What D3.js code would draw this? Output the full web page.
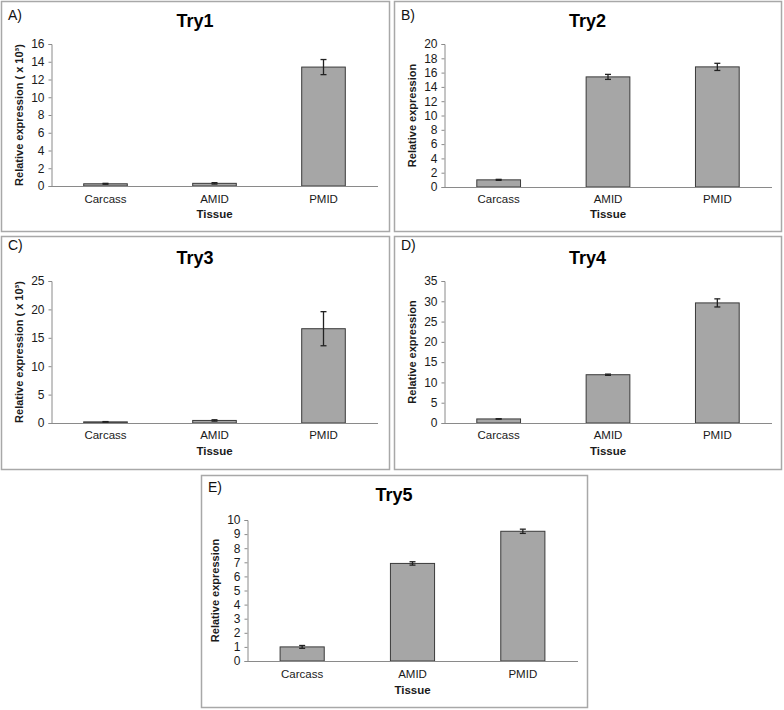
<!DOCTYPE html>
<html>
<head>
<meta charset="utf-8">
<script src="https://cdn.jsdelivr.net/npm/d3@7/dist/d3.min.js"></script>
<style>
  html, body { margin: 0; padding: 0; background: #fff; }
  svg { display: block; font-family: "Liberation Sans", Arial, sans-serif; }
</style>
</head>
<body>
<svg id="chart" width="784" height="710"></svg>
<script>
// ---- data ----
const categories = ["Carcass", "AMID", "PMID"];

const try1Values = [0.25, 0.3, 13.4];
const try1Errors = [0.05, 0.08, 0.85];
const try1Ticks  = [0, 2, 4, 6, 8, 10, 12, 14, 16];

const try2Values = [1.0, 15.4, 16.8];
const try2Errors = [0.07, 0.35, 0.5];
const try2Ticks  = [0, 2, 4, 6, 8, 10, 12, 14, 16, 18, 20];

const try3Values = [0.2, 0.45, 16.6];
const try3Errors = [0.05, 0.12, 3.0];
const try3Ticks  = [0, 5, 10, 15, 20, 25];

const try4Values = [1.0, 11.9, 29.6];
const try4Errors = [0.05, 0.15, 1.0];
const try4Ticks  = [0, 5, 10, 15, 20, 25, 30, 35];

const try5Values = [1.0, 6.92, 9.2];
const try5Errors = [0.1, 0.12, 0.15];
const try5Ticks  = [0, 1, 2, 3, 4, 5, 6, 7, 8, 9, 10];

const panelLetters = ["A)", "B)", "C)", "D)", "E)"];
const panelTitles  = ["Try1", "Try2", "Try3", "Try4", "Try5"];
const yLabelScaled = "Relative expression ( x 10³)";
const yLabelPlain  = "Relative expression";
const xLabel = "Tissue";

// ---- layout ----
const panels = [
  { letter: panelLetters[0], title: panelTitles[0], values: try1Values, errors: try1Errors, ticks: try1Ticks, ylab: yLabelScaled,
    box: [1, 1, 389, 231], plot: [51, 378, 44, 186], titleY: 27, letterY: 20, catY: 203, xlabY: 218 },
  { letter: panelLetters[1], title: panelTitles[1], values: try2Values, errors: try2Errors, ticks: try2Ticks, ylab: yLabelPlain,
    box: [394, 1, 781, 231], plot: [444, 772, 44, 187], titleY: 27, letterY: 20, catY: 203, xlabY: 218 },
  { letter: panelLetters[2], title: panelTitles[2], values: try3Values, errors: try3Errors, ticks: try3Ticks, ylab: yLabelScaled,
    box: [1, 236, 389, 469], plot: [51, 378, 281, 423], titleY: 264, letterY: 250, catY: 439, xlabY: 455 },
  { letter: panelLetters[3], title: panelTitles[3], values: try4Values, errors: try4Errors, ticks: try4Ticks, ylab: yLabelPlain,
    box: [394, 236, 781, 469], plot: [444, 772, 281, 423], titleY: 264, letterY: 250, catY: 439, xlabY: 455 },
  { letter: panelLetters[4], title: panelTitles[4], values: try5Values, errors: try5Errors, ticks: try5Ticks, ylab: yLabelPlain,
    box: [201, 475, 587, 707], plot: [247, 578, 520, 661], titleY: 501, letterY: 492, catY: 678, xlabY: 694 }
];

const svg = d3.select("#chart");
const axisColor = "#8a8a8a";
const textColor = "#1a1a1a";

panels.forEach(p => {
  const [bx0, by0, bx1, by1] = p.box;
  const [px0, px1, py0, py1] = p.plot;
  const g = svg.append("g");

  // panel frame
  g.append("rect")
    .attr("x", bx0 + 0.5).attr("y", by0 + 0.5)
    .attr("width", bx1 - bx0).attr("height", by1 - by0)
    .attr("fill", "none").attr("stroke", "#a8a8a8").attr("stroke-width", 1.5);

  // letter & title
  g.append("text").attr("x", bx0 + 7).attr("y", p.letterY)
    .attr("font-size", 14).attr("fill", "#111").text(p.letter);
  g.append("text").attr("x", (bx0 + bx1) / 2).attr("y", p.titleY)
    .attr("text-anchor", "middle").attr("font-size", 18).attr("font-weight", "bold")
    .attr("fill", "#000").text(p.title);

  const x = d3.scaleBand().domain(categories).range([px0, px1])
    .paddingInner(0.6).paddingOuter(0.3);
  const yMax = p.ticks[p.ticks.length - 1];
  const y = d3.scaleLinear().domain([0, yMax]).range([py1, py0]);

  // y axis
  const yAxis = d3.axisLeft(y).tickValues(p.ticks).tickSize(3).tickPadding(4).tickFormat(d3.format("d"));
  const ya = g.append("g").attr("transform", `translate(${px0 + 0.5},0)`).call(yAxis);
  ya.select(".domain").attr("stroke", axisColor);
  ya.selectAll(".tick line").attr("stroke", axisColor);
  ya.selectAll(".tick text").attr("font-size", 12).attr("fill", textColor)
    .attr("font-family", "Liberation Sans, Arial, sans-serif");

  // bars
  g.selectAll("rect.bar").data(p.values).enter().append("rect")
    .attr("class", "bar")
    .attr("x", (d, i) => x(categories[i]))
    .attr("y", d => y(d))
    .attr("width", x.bandwidth())
    .attr("height", d => y(0) - y(d))
    .attr("fill", "#a6a6a6").attr("stroke", "#3a3a3a").attr("stroke-width", 1);

  // x axis line
  g.append("line").attr("x1", px0).attr("x2", px1)
    .attr("y1", y(0) + 0.5).attr("y2", y(0) + 0.5)
    .attr("stroke", axisColor).attr("stroke-width", 1);

  // error bars
  const eb = g.selectAll("g.err").data(p.values).enter().append("g").attr("class", "err");
  const cx = i => x(categories[i]) + x.bandwidth() / 2;
  eb.append("line")
    .attr("x1", (d, i) => cx(i)).attr("x2", (d, i) => cx(i))
    .attr("y1", (d, i) => y(d + p.errors[i])).attr("y2", (d, i) => y(d - p.errors[i]))
    .attr("stroke", "#222").attr("stroke-width", 1.3);
  ["+", "-"].forEach(sgn => {
    eb.append("line")
      .attr("x1", (d, i) => cx(i) - 3).attr("x2", (d, i) => cx(i) + 3)
      .attr("y1", (d, i) => y(sgn === "+" ? d + p.errors[i] : d - p.errors[i]))
      .attr("y2", (d, i) => y(sgn === "+" ? d + p.errors[i] : d - p.errors[i]))
      .attr("stroke", "#222").attr("stroke-width", 1.3);
  });

  // category labels
  g.selectAll("text.cat").data(categories).enter().append("text")
    .attr("class", "cat")
    .attr("x", d => x(d) + x.bandwidth() / 2).attr("y", p.catY)
    .attr("text-anchor", "middle").attr("font-size", 11.5).attr("fill", textColor)
    .text(d => d);

  // axis titles
  g.append("text").attr("x", (px0 + px1) / 2).attr("y", p.xlabY)
    .attr("text-anchor", "middle").attr("font-size", 11.5).attr("font-weight", "bold")
    .attr("fill", textColor).text(xLabel);
  g.append("text")
    .attr("transform", `translate(${px0 - 28},${(py0 + py1) / 2}) rotate(-90)`)
    .attr("text-anchor", "middle").attr("font-size", 11).attr("font-weight", "bold")
    .attr("fill", textColor).text(p.ylab);
});
</script>
</body>
</html>
